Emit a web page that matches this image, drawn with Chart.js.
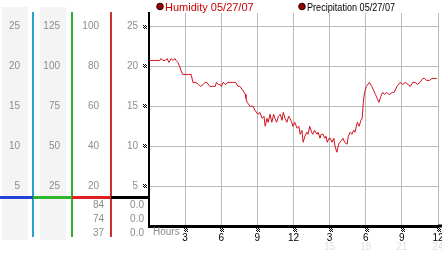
<!DOCTYPE html>
<html>
<head>
<meta charset="utf-8">
<script src="https://cdn.jsdelivr.net/npm/chart.js@4/dist/chart.umd.min.js"></script>
<style>
  body { margin: 0; background: #fff; }
  #wrap { width: 442px; height: 253px; }
</style>
</head>
<body>
<div id="wrap"><canvas id="chart" width="442" height="253"></canvas></div>
<script>
// humidity readings (%), hour of day
const hours = [
  0, 0.45, 0.9, 1.0, 1.15, 1.35, 1.5, 1.65, 1.85, 2.0, 2.15, 2.25, 2.4, 2.55, 2.65, 2.8,
  3.0, 3.25, 3.5, 3.65, 3.9, 4.1, 4.3, 4.5, 4.65, 4.8, 5.05, 5.3, 5.5, 5.6, 5.75, 5.9,
  6.0, 6.15, 6.35, 6.55, 6.8, 7.0, 7.2, 7.4, 7.55, 7.8, 8.0, 8.05, 8.15, 8.4, 8.65, 8.8,
  9.05, 9.2, 9.4, 9.55, 9.65, 9.8, 9.9, 10.05, 10.2, 10.35, 10.45, 10.6, 10.75, 10.9,
  11.05, 11.15, 11.3, 11.45, 11.6, 11.7, 11.85, 11.95, 12.1, 12.3, 12.45, 12.55, 12.7,
  12.8, 12.95, 13.1, 13.2, 13.35, 13.5, 13.6, 13.75, 13.95, 14.05, 14.2, 14.3, 14.45,
  14.6, 14.7, 14.8, 14.95, 15.05, 15.2, 15.35, 15.45, 15.6, 15.75, 15.85, 16.0, 16.1,
  16.25, 16.45, 16.55, 16.7, 16.85, 17.0, 17.1, 17.3, 17.45, 17.6, 17.7, 17.8, 17.9,
  18.05, 18.3, 18.5, 18.8, 18.95, 19.1, 19.25, 19.4, 19.55, 19.75, 19.9, 20.0, 20.2,
  20.35, 20.6, 20.85, 21.05, 21.3, 21.5, 21.7, 21.9, 22.1, 22.3, 22.5, 22.75, 22.9,
  23.05, 23.3, 23.5, 23.75, 23.9
];
const humidity = [
  83, 83, 83, 84, 83, 83, 84, 82, 84, 83, 84, 83, 82, 80, 78, 76,
  76, 76, 76, 72, 72, 71, 70, 71, 72, 72, 70, 70, 70, 72, 71, 71,
  70, 72, 71, 72, 72, 72, 72, 70, 70, 68, 66, 64, 62, 60, 60, 58,
  56, 57, 54, 55, 50, 54, 52, 56, 52, 56, 54, 52, 55, 56,
  53, 57, 54, 52, 55, 54, 52, 50, 52, 49, 50, 46, 48,
  42, 45, 47, 46, 50, 47, 46, 48, 46, 47, 44, 46, 46,
  44, 45, 42, 44, 44, 42, 44, 40, 37, 41, 42, 43, 44,
  42, 41, 45, 47, 46, 48, 47, 52, 50, 53, 54, 62, 67,
  70, 72, 70, 66, 64, 62, 65, 67, 66, 67, 66, 66, 67,
  67, 70, 72, 71, 72, 71, 70, 72, 72, 71, 72, 74, 74,
  73, 73, 74, 74, 74
];
const precipHours = [0, 24];
const precipitation = [0, 0];

const legendLabels = ['Humidity 05/27/07', 'Precipitation 05/27/07'];
const scale1Ticks = [5, 10, 15, 20, 25];
const scale2Ticks = [25, 50, 75, 100, 125];
const humidityTicks = [20, 40, 60, 80, 100];
const precipTicks = [5, 10, 15, 20, 25];
const hourTicks = [3, 6, 9, 12, 15, 18, 21, 24];
const hourLabels = ['3', '6', '9', '12', '3', '6', '9', '12'];
const hourLabels24 = ['', '', '', '', '15', '18', '21', '24'];
const humidityReadout = ['84', '74', '37'];
const precipReadout = ['0.0', '0.0', '0.0'];

Chart.defaults.font.family = '"Liberation Sans", Arial, sans-serif';
Chart.defaults.font.size = 10;

const setTicks = values => s => { s.ticks = values.map(v => ({ value: v })); };
const fixWidth = w => s => { s.width = w; s.paddingTop = 0; s.paddingBottom = 0; };

function mark(ctx, x, y) {
  // tiny checkered tick glyph
  for (let r = 0; r < 4; r++)
    for (let c = 0; c < 4; c++)
      if ((r + c) % 2 === 0) ctx.fillRect(x + c, y + r, 1, 1);
}

const panel = {
  id: 'panel',
  beforeDraw(chart) {
    const { ctx, scales } = chart;
    ctx.save();
    ctx.fillStyle = '#f4f4f4';
    ctx.fillRect(scales.ya.left + 2, 7, scales.ya.width - 7, 233);
    ctx.fillRect(scales.yb.left + 7, 7, scales.yb.width - 13, 233);
    ctx.restore();
  },
  afterDraw(chart) {
    const { ctx, scales, chartArea } = chart;
    const { ya, yb, yh, y, x } = scales;
    ctx.save();

    // column separators
    [[ya, '#2f9fd0'], [yb, '#2fae2f'], [yh, '#d03030']].forEach(([s, col]) => {
      ctx.fillStyle = col;
      ctx.fillRect(Math.round(s.right) - 1, 12, 2, 225);
    });

    // colour key line
    const ky = chartArea.bottom - 30;
    [[0, ya.right, '#2440d8'], [ya.right, yb.right, '#2db52d'],
     [yb.right, yh.right, '#e02020'], [yh.right, y.right, '#000']].forEach(([a, b, col]) => {
      ctx.fillStyle = col;
      ctx.fillRect(a, ky, b - a, 3);
    });

    // readouts
    ctx.font = '10px "Liberation Sans", Arial, sans-serif';
    ctx.fillStyle = '#8c8c8c';
    ctx.textAlign = 'right';
    ctx.textBaseline = 'alphabetic';
    humidityReadout.forEach((t, i) => ctx.fillText(t, yh.right - 7, 208 + i * 14));
    precipReadout.forEach((t, i) => ctx.fillText(t, y.right - 5, 208 + i * 14));

    // extend x axis line to edge
    ctx.fillStyle = '#000';
    ctx.fillRect(chartArea.right, chartArea.bottom - 1.5, chart.width - chartArea.right, 3);

    // tick glyphs
    precipTicks.forEach(v => mark(ctx, y.right - 6, Math.round(y.getPixelForValue(v)) - 2));
    hourTicks.forEach(v => mark(ctx, Math.round(x.getPixelForValue(v)) - 1, 228));

    // Hours caption + 24h labels
    ctx.textAlign = 'left';
    ctx.fillStyle = '#8c8c8c';
    ctx.fillText('Hours', chartArea.left + 4, 235);
    ctx.textAlign = 'center';
    ctx.fillStyle = '#e0e0e0';
    hourTicks.forEach((v, i) => ctx.fillText(hourLabels24[i], x.getPixelForValue(v), 250));

    // legend
    ctx.textAlign = 'left';
    ctx.font = '11px "Liberation Sans", Arial, sans-serif';
    [[160, '#cc0000', 90], [302, '#000', 88]].forEach(([lx, col, w], i) => {
      ctx.beginPath();
      ctx.arc(lx, 6.5, 3.3, 0, Math.PI * 2);
      ctx.fillStyle = '#990000';
      ctx.fill();
      ctx.strokeStyle = '#220000';
      ctx.lineWidth = 1;
      ctx.stroke();
      ctx.fillStyle = col;
      ctx.fillText(legendLabels[i], lx + 5, 10.5, w);
    });
    ctx.restore();
  }
};

const sideAxis = (weight, max, ticks, width, pad) => ({
  type: 'linear', position: 'left', weight, min: 0, max,
  afterBuildTicks: setTicks(ticks),
  afterFit: fixWidth(width),
  grid: { display: false, drawTicks: false },
  border: { display: false },
  ticks: { color: '#8c8c8c', padding: pad }
});

new Chart(document.getElementById('chart'), {
  type: 'line',
  data: {
    datasets: [
      {
        label: legendLabels[0],
        data: hours.map((h, i) => ({ x: h, y: humidity[i] })),
        yAxisID: 'yh',
        borderColor: '#d0101e',
        borderWidth: 1,
        pointRadius: 0,
        tension: 0
      },
      {
        label: legendLabels[1],
        data: precipHours.map((h, i) => ({ x: h, y: precipitation[i] })),
        yAxisID: 'y',
        borderColor: '#000',
        borderWidth: 1,
        pointRadius: 0
      }
    ]
  },
  options: {
    responsive: false,
    animation: false,
    layout: { padding: { top: 13, right: 4, left: 0, bottom: 0 } },
    plugins: { legend: { display: false }, tooltip: { enabled: false } },
    scales: {
      x: {
        type: 'linear', min: 0, max: 24,
        afterBuildTicks: setTicks(hourTicks),
        afterFit: s => { s.height = 27; s.paddingLeft = 0; s.paddingRight = 0; },
        grid: { color: '#bbbbbb', drawTicks: false },
        border: { color: '#000', width: 3 },
        ticks: {
          color: '#000', padding: 6, maxRotation: 0, autoSkip: false,
          callback: (v, i) => hourLabels[i]
        }
      },
      ya: sideAxis(3, 26.7, scale1Ticks, 33, 13),
      yb: sideAxis(2, 133.5, scale2Ticks, 39, 12),
      yh: sideAxis(1, 106.8, humidityTicks, 39, 12),
      y: {
        type: 'linear', position: 'left', weight: 0, min: 0, max: 26.7,
        afterBuildTicks: setTicks(precipTicks),
        afterFit: fixWidth(38),
        grid: { color: '#bbbbbb', drawTicks: false },
        border: { color: '#000', width: 2 },
        ticks: { color: '#8c8c8c', padding: 11 }
      }
    }
  },
  plugins: [panel]
});
</script>
</body>
</html>
